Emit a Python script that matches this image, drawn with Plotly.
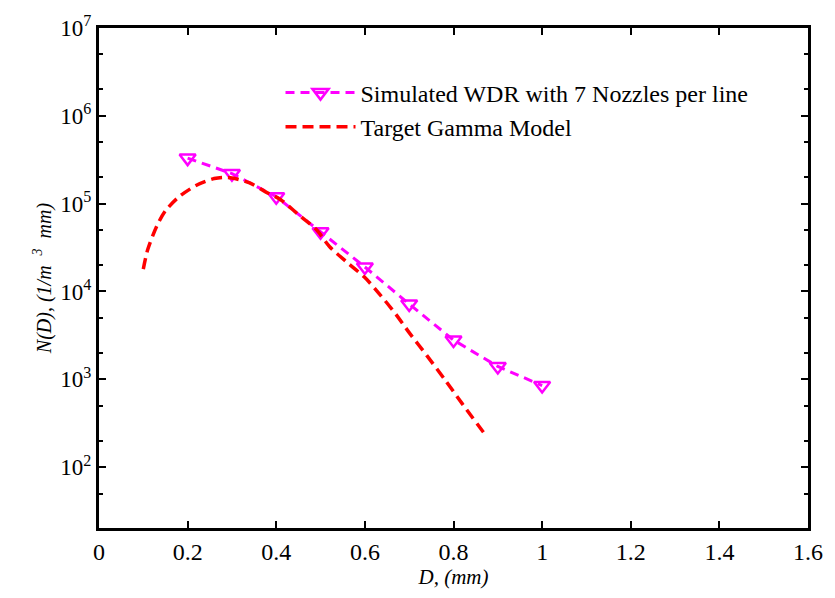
import plotly.graph_objects as go

# Simulated WDR with 7 nozzles per line
sim_d = [0.2, 0.3, 0.4, 0.5, 0.6, 0.7, 0.8, 0.9, 1.0]
sim_n = [3.3e5, 2.2e5, 1.2e5, 4.8e4, 1.9e4, 7.2e3, 2.8e3, 1.4e3, 850]

# Target gamma model
gam_d = [0.1, 0.11, 0.13, 0.15, 0.18, 0.22, 0.26, 0.28, 0.3, 0.34, 0.375,
         0.41, 0.45, 0.49, 0.52, 0.56, 0.6, 0.635, 0.67, 0.7, 0.74, 0.78,
         0.82, 0.87]
gam_n = [1.8e4, 3.0e4, 5.5e4, 8.3e4, 1.19e5, 1.62e5, 1.93e5, 1.99e5, 1.96e5,
         1.72e5, 1.37e5, 1.11e5, 7.5e4, 5.1e4, 3.25e4, 2.14e4, 1.44e4, 9.1e3,
         5.5e3, 3.4e3, 1.86e3, 1.0e3, 525, 240]

y_tickvals = [1e2, 1e3, 1e4, 1e5, 1e6, 1e7]
y_ticktext = ["10<sup>2</sup>", "10<sup>3</sup>", "10<sup>4</sup>",
              "10<sup>5</sup>", "10<sup>6</sup>", "10<sup>7</sup>"]
x_tickvals = [0, 0.2, 0.4, 0.6, 0.8, 1.0, 1.2, 1.4, 1.6]
x_ticktext = ["0", "0.2", "0.4", "0.6", "0.8", "1", "1.2", "1.4", "1.6"]

serif = "Liberation Serif"

fig = go.Figure()
fig.add_trace(go.Scatter(
    x=sim_d, y=sim_n, mode="lines+markers",
    name="Simulated WDR with 7 Nozzles per line",
    line=dict(color="#FF00FF", width=3, dash="9px,6px"),
    marker=dict(symbol="triangle-down-open", size=14, color="#FF00FF",
                line=dict(color="#FF00FF", width=2.5)),
))
fig.add_trace(go.Scatter(
    x=gam_d, y=gam_n, mode="lines", name="Target Gamma Model",
    line=dict(color="#FF0000", width=3.5, dash="11px,6px", shape="spline", smoothing=0.8),
))

fig.update_layout(
    width=835, height=598,
    margin=dict(l=99, r=19, t=28, b=70),
    paper_bgcolor="white", plot_bgcolor="white",
    font=dict(family=serif, size=22, color="black"),
    legend=dict(x=0.256, y=0.915, xanchor="left", yanchor="top",
                bgcolor="rgba(0,0,0,0)", font=dict(size=24, family=serif),
                itemwidth=70, tracegroupgap=0),
)
fig.update_xaxes(
    range=[0, 1.6], tickvals=x_tickvals, ticktext=x_ticktext,
    tickfont=dict(size=24, family=serif),
    showline=True, linecolor="black", linewidth=3, mirror="ticks",
    ticks="inside", ticklen=7, tickwidth=2, tickcolor="black",
    showgrid=False, zeroline=False,
    title=dict(text="<i>D, (mm)</i>", font=dict(size=21, family=serif), standoff=6),
)
fig.update_yaxes(
    type="log", range=[1.307, 7], tickvals=y_tickvals, ticktext=y_ticktext,
    tickfont=dict(size=23, family=serif),
    showline=True, linecolor="black", linewidth=3, mirror="ticks",
    ticks="inside", ticklen=7, tickwidth=2, tickcolor="black",
    minor=dict(ticks="inside", ticklen=4, tickwidth=1.5, tickcolor="black", showgrid=False),
    showgrid=False, zeroline=False,
    title=dict(text="<i>N(D), (1/m  <sup>3</sup>  mm)</i>", font=dict(size=20, family=serif), standoff=4),
)

fig.write_html("out.html")
